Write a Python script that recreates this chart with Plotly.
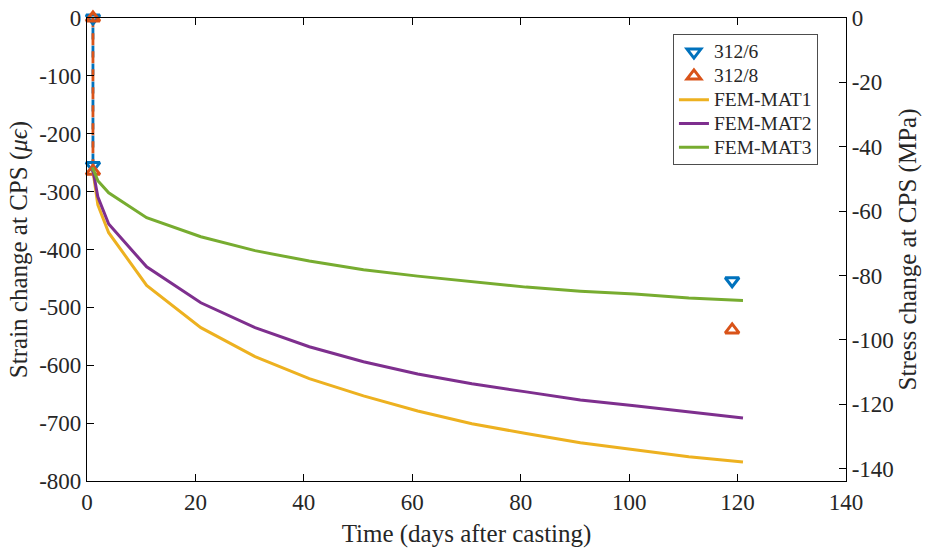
import plotly.graph_objects as go

# ---------------- data ----------------
fem_days = [1, 2, 4, 11, 21, 31, 41, 51, 61, 71, 81, 91, 101, 111, 121]
fem_mat1 = [-258, -323, -371, -462, -535, -585, -623, -653, -679, -701, -718, -734, -746, -758, -767]
fem_mat2 = [-258, -309, -356, -430, -492, -535, -568, -594, -615, -632, -646, -660, -670, -680, -691]
fem_mat3 = [-258, -281, -302, -345, -378, -402, -420, -435, -446, -456, -465, -472, -477, -484, -488]

meas_days = [1.1, 1.1, 119]
meas_312_6 = [0, -255, -454]
meas_312_8 = [0, -265, -539]

series_names = ["312/6", "312/8", "FEM-MAT1", "FEM-MAT2", "FEM-MAT3"]

x_ticks = [0, 20, 40, 60, 80, 100, 120, 140]
y_ticks = [0, -100, -200, -300, -400, -500, -600, -700, -800]
y2_ticks = [0, -20, -40, -60, -80, -100, -120, -140]
y2_range = [-143.8, 0]

BLUE = "#0072BD"
ORANGE = "#D95319"
YELLOW = "#EDB120"
PURPLE = "#7E2F8E"
GREEN = "#77AC30"
FONT = "Liberation Serif"
TXT = "#262626"


def lg(name):
    return '<span style="font-size:19.5px">' + name + '</span>'


fig = go.Figure()

# dashed early-age lines (no legend)
fig.add_trace(go.Scatter(x=meas_days[:2][::-1], y=meas_312_6[:2][::-1], mode="lines",
                         line=dict(color=BLUE, width=2.8, dash="12px,6px"), showlegend=False,
                         cliponaxis=False))
fig.add_trace(go.Scatter(x=meas_days[:2][::-1], y=meas_312_8[:2][::-1], mode="lines",
                         line=dict(color=ORANGE, width=2.8, dash="12px,6px"), showlegend=False,
                         cliponaxis=False))

fig.add_trace(go.Scatter(x=meas_days, y=meas_312_6, mode="markers", name=lg(series_names[0]),
                         marker=dict(symbol="triangle-down-open", size=12, color=BLUE,
                                     line=dict(width=3, color=BLUE)), cliponaxis=False))
fig.add_trace(go.Scatter(x=meas_days, y=meas_312_8, mode="markers", name=lg(series_names[1]),
                         marker=dict(symbol="triangle-up-open", size=12, color=ORANGE,
                                     line=dict(width=3, color=ORANGE)), cliponaxis=False))

fig.add_trace(go.Scatter(x=fem_days, y=fem_mat1, mode="lines", name=lg(series_names[2]),
                         line=dict(color=YELLOW, width=3)))
fig.add_trace(go.Scatter(x=fem_days, y=fem_mat2, mode="lines", name=lg(series_names[3]),
                         line=dict(color=PURPLE, width=3)))
fig.add_trace(go.Scatter(x=fem_days, y=fem_mat3, mode="lines", name=lg(series_names[4]),
                         line=dict(color=GREEN, width=3)))

# empty trace to anchor the right axis
fig.add_trace(go.Scatter(x=[None], y=[None], yaxis="y2", showlegend=False, hoverinfo="skip"))

tickfont = dict(family=FONT, size=23, color=TXT)
titlefont = dict(family=FONT, size=25, color=TXT)

fig.update_layout(
    width=928, height=549,
    margin=dict(l=87, r=82, t=18, b=68, autoexpand=False),
    paper_bgcolor="white", plot_bgcolor="white",
    font=dict(family=FONT, size=22, color=TXT),
    showlegend=True,
    legend=dict(x=0.772, y=0.965, xanchor="left", yanchor="top",
                bgcolor="white", bordercolor="#4d4d4d", borderwidth=1,
                font=dict(family=FONT, size=16, color=TXT),
                tracegroupgap=0, itemwidth=30),
    xaxis=dict(range=[0, 140], tickvals=x_ticks, ticktext=[str(v) for v in x_ticks],
               showline=True, linecolor="black", linewidth=1.2, mirror="ticks",
               ticks="inside", ticklen=7, tickcolor="black", showgrid=False, zeroline=False,
               tickfont=tickfont, automargin=False,
               title=dict(text="Time (days after casting)", font=titlefont, standoff=10)),
    yaxis=dict(range=[-800, 0], tickvals=y_ticks, ticktext=[str(v) for v in y_ticks],
               showline=True, linecolor="black", linewidth=1.2, mirror=False,
               ticks="inside", ticklen=7, tickcolor="black", showgrid=False, zeroline=False,
               tickfont=tickfont, automargin=False,
               title=dict(text="Strain change at CPS (<i>μϵ</i>)", font=titlefont, standoff=4)),
    yaxis2=dict(range=y2_range, tickvals=y2_ticks, ticktext=[str(v) for v in y2_ticks],
                overlaying="y", side="right", anchor="x",
                showline=True, linecolor="black", linewidth=1.2,
                ticks="inside", ticklen=7, tickcolor="black", showgrid=False, zeroline=False,
                tickfont=tickfont, automargin=False,
                title=dict(text="Stress change at CPS (MPa)", font=titlefont, standoff=4)),
)

fig.write_html("out.html")
